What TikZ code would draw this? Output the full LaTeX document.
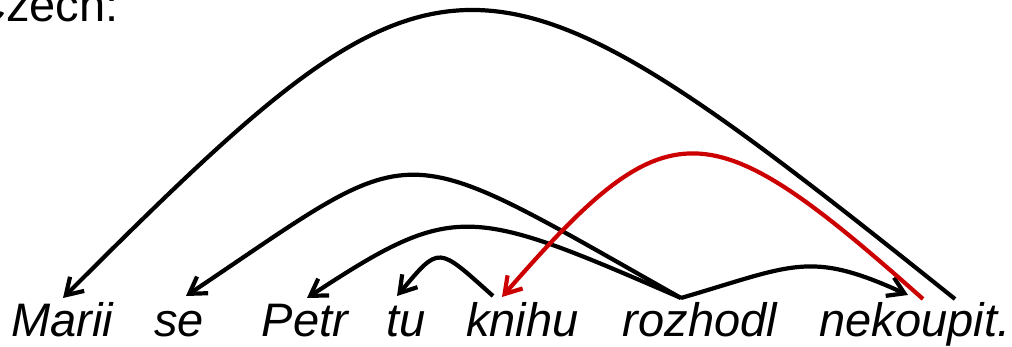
\documentclass[tikz,border=0pt]{standalone}
\usepackage{fontspec}
\setmainfont{Liberation Sans}
\usetikzlibrary{arrows.meta}
\definecolor{arcred}{RGB}{204,0,0}
\begin{document}
\begin{tikzpicture}[x=1pt,y=-1pt,
  word/.style={anchor=base,inner sep=0pt,font=\fontsize{47}{56}\selectfont\itshape},
  title/.style={anchor=base west,inner sep=0pt,font=\fontsize{47}{56}\selectfont},
  arc/.style={line width=4.2pt,-{Straight Barb[length=16pt,width=20pt]}},
  redarc/.style={arc,draw=arcred}]
\useasboundingbox (0,0) rectangle (1012,347);
\node[title] (czech) at (-28,22) {Czech:};
\node[word] (marii) at (62,337) {Marii};
\node[word] (se) at (179,337) {se};
\node[word] (petr) at (305,337) {Petr};
\node[word] (tu) at (406.5,337) {tu};
\node[word] (knihu) at (522.5,337) {knihu};
\node[word] (rozhodl) at (700,337) {rozhodl};
\node[word] (nekoupit) at (915,337) {nekoupit.};
% arc end points
\coordinate (nekA) at (955,299);
\coordinate (nekR) at (923,299);
\coordinate (nekIn) at (908,295);
\coordinate (rozA) at (681,298);
\coordinate (knihuA) at (493,296);
\coordinate (knihuIn) at (502,297);
\coordinate (mariiIn) at (63,298);
\coordinate (seIn) at (186,296);
\coordinate (petrIn) at (307,298);
\coordinate (tuIn) at (397,296);
% arcs
\draw[arc] (nekA) .. controls (475,-85) and (447,-86) .. (mariiIn);
\draw[arc] (rozA) .. controls (388,133) and (425,136) .. (seIn);
\draw[arc] (rozA) .. controls (469,206) and (455,201) .. (petrIn);
\draw[arc] (knihuA) .. controls (437,246) and (440,245) .. (tuIn);
\draw[arc] (rozA) .. controls (794,265) and (809,250) .. (nekIn);
\draw[redarc] (nekR) .. controls (707,107) and (669,105) .. (knihuIn);
\end{tikzpicture}
\end{document}
